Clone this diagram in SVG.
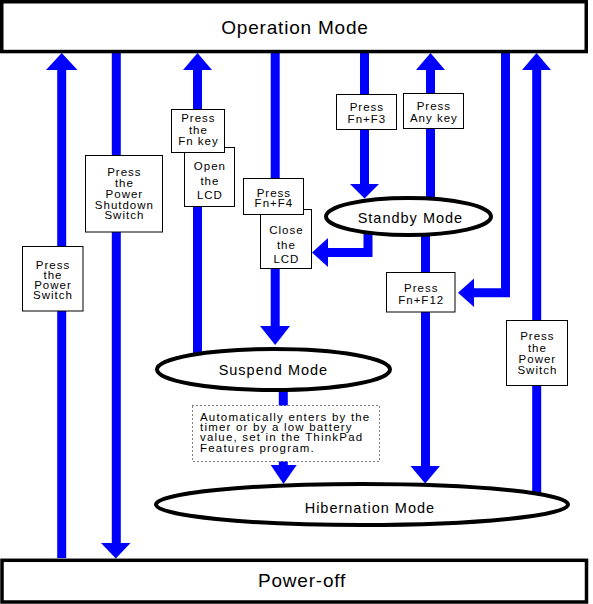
<svg xmlns="http://www.w3.org/2000/svg" width="593" height="604" viewBox="0 0 593 604">
<style>
text{font-family:"Liberation Sans",Arial,sans-serif;fill:#000}
.mode{fill:#fff;stroke:#000;stroke-width:3.5}
.ell{fill:#fff;stroke:#000;stroke-width:4}
.big{font-size:19px;letter-spacing:0.8px}
.mid{font-size:14.5px;letter-spacing:1px;text-anchor:middle}
.lbl rect{fill:#fff;stroke:#000;stroke-width:1}
.lbl text{font-size:11.5px;letter-spacing:1px;text-anchor:middle}
.shaft{fill:none;stroke:#0000ff;stroke-width:9;stroke-linejoin:miter}
.head{fill:#0000ff}
.note rect{fill:#fff;stroke:#000;stroke-width:1;stroke-dasharray:1 3}
.note text{font-size:11.5px;letter-spacing:1.2px}
</style>
<rect width="593" height="604" fill="#fff"/>
<g id="connectors">
  <path class="shaft" d="M61.7,558 V69"/>
  <polygon class="head" points="46,70 77.5,70 61.7,53"/>
  <path class="shaft" d="M116.3,53 V544"/>
  <polygon class="head" points="101,543 130.5,543 115.8,558.5"/>
  <path class="shaft" d="M197.5,355 V69"/>
  <polygon class="head" points="183,70 212,70 197.5,53"/>
  <path class="shaft" d="M275.2,53 V327"/>
  <polygon class="head" points="260,326 290,326 275.2,345"/>
  <path class="shaft" d="M364.5,53 V185"/>
  <polygon class="head" points="350,184 379,184 364.5,198.5"/>
  <path class="shaft" d="M430.5,200 V69"/>
  <polygon class="head" points="416,70 445,70 430.5,53"/>
  <path class="shaft" d="M368,228 V252.5 H327"/>
  <polygon class="head" points="328,238 328,267 312,252.5"/>
  <path class="shaft" d="M425.5,232 V467"/>
  <polygon class="head" points="410.5,466 440,466 425.2,483.5"/>
  <path class="shaft" d="M505.5,53 V292.8 H473"/>
  <polygon class="head" points="474,278.5 474,307 458,292.8"/>
  <path class="shaft" d="M536.7,495 V69"/>
  <polygon class="head" points="522,70 551,70 536.5,53"/>
  <path class="shaft" d="M283.3,388 V466"/>
  <polygon class="head" points="270.7,465 296.7,465 283.5,484"/>
</g>
<g id="labels" class="lbl">
  <g id="lbl-power-on-left">
    <rect x="22.5" y="246.5" width="60.5" height="64.5"/>
    <text x="53" y="268.6">Press</text>
    <text x="53" y="278.8">the</text>
    <text x="53" y="289">Power</text>
    <text x="53" y="299.4">Switch</text>
  </g>
  <g id="lbl-shutdown">
    <rect x="85.5" y="155.5" width="77" height="76.5"/>
    <text x="124.4" y="176.3">Press</text>
    <text x="124.4" y="187.1">the</text>
    <text x="124.4" y="197.9">Power</text>
    <text x="124.4" y="208.6">Shutdown</text>
    <text x="124.4" y="219.2">Switch</text>
  </g>
  <g id="lbl-open-lcd">
    <rect x="184.5" y="147.5" width="50" height="59"/>
    <text x="209.9" y="169.6">Open</text>
    <text x="209.9" y="184.6">the</text>
    <text x="209.9" y="199.3">LCD</text>
  </g>
  <g id="lbl-fn-key">
    <rect x="171.5" y="109.5" width="53" height="43"/>
    <text x="198.4" y="122">Press</text>
    <text x="198.4" y="133.6">the</text>
    <text x="198.4" y="145.3">Fn key</text>
  </g>
  <g id="lbl-close-lcd">
    <rect x="260.5" y="209.5" width="51" height="59"/>
    <text x="286.4" y="233.6">Close</text>
    <text x="286.4" y="248.6">the</text>
    <text x="286.4" y="263">LCD</text>
  </g>
  <g id="lbl-fn-f4">
    <rect x="243.5" y="178.5" width="60" height="36"/>
    <text x="273.9" y="197">Press</text>
    <text x="273.9" y="207">Fn+F4</text>
  </g>
  <g id="lbl-fn-f3">
    <rect x="336.5" y="94.5" width="60" height="35"/>
    <text x="366.9" y="111.3">Press</text>
    <text x="366.9" y="122.6">Fn+F3</text>
  </g>
  <g id="lbl-any-key">
    <rect x="403.5" y="93.5" width="60" height="35"/>
    <text x="433.9" y="110.3">Press</text>
    <text x="433.9" y="121.8">Any key</text>
  </g>
  <g id="lbl-fn-f12">
    <rect x="386.5" y="272.5" width="68.5" height="39.5"/>
    <text x="421.2" y="292">Press</text>
    <text x="421.2" y="303.6">Fn+F12</text>
  </g>
  <g id="lbl-power-on-right">
    <rect x="506.5" y="320.5" width="61" height="65"/>
    <text x="537.4" y="340.3">Press</text>
    <text x="537.4" y="351.8">the</text>
    <text x="537.4" y="363">Power</text>
    <text x="537.4" y="374.3">Switch</text>
  </g>
</g>
<g id="note" class="note">
  <rect x="192.5" y="405.5" width="187" height="56"/>
  <text x="200" y="421.2">Automatically enters by the</text>
  <text x="200" y="431.3">timer or by a low battery</text>
  <text x="200" y="441.4">value, set in the ThinkPad</text>
  <text x="200" y="451.5">Features program.</text>
</g>
<g id="operation-mode">
  <rect class="mode" x="1.75" y="1.75" width="584.5" height="49.8"/>
  <text class="big" x="295" y="34.3" text-anchor="middle">Operation Mode</text>
</g>
<g id="standby-mode">
  <ellipse class="ell" cx="408.5" cy="216.5" rx="82.5" ry="18.5"/>
  <text class="mid" x="410.4" y="222.7">Standby Mode</text>
</g>
<g id="suspend-mode">
  <ellipse class="ell" cx="273.5" cy="369.5" rx="116.5" ry="20.5"/>
  <text class="mid" x="273.4" y="375">Suspend Mode</text>
</g>
<g id="hibernation-mode">
  <ellipse class="ell" cx="362" cy="504.5" rx="206" ry="20.5"/>
  <text class="mid" x="369.9" y="512.7">Hibernation Mode</text>
</g>
<g id="power-off">
  <rect class="mode" x="2" y="560.3" width="584.5" height="41.7"/>
  <text class="big" x="258" y="586.7">Power-off</text>
</g>
</svg>
